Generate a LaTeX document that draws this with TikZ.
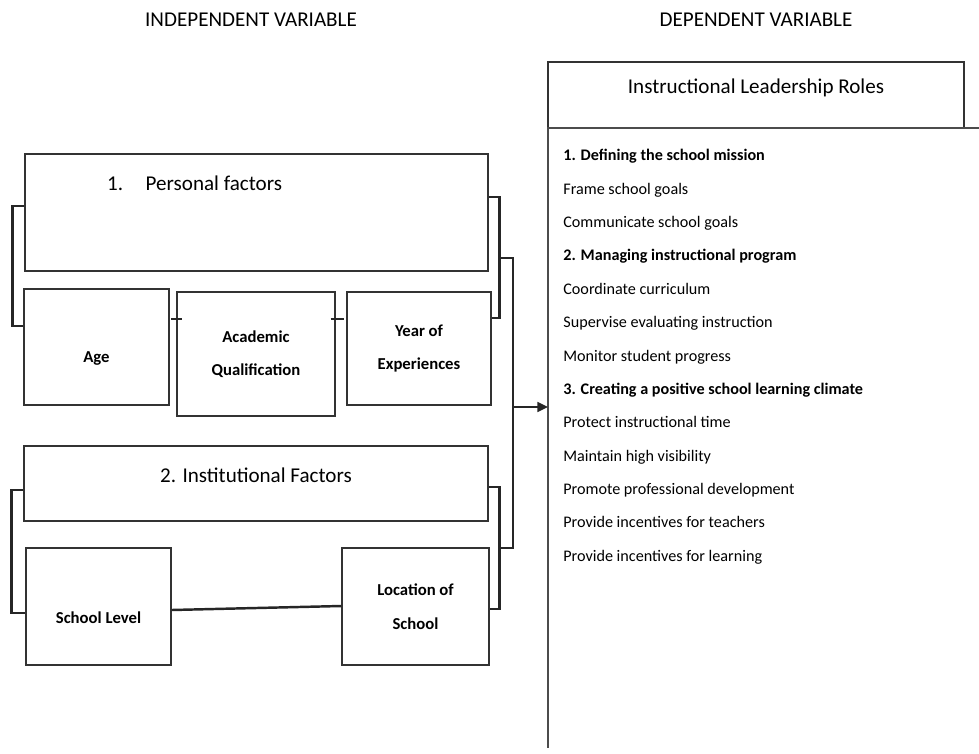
\documentclass[tikz,border=0pt]{standalone}
\usepackage{fontspec}
\setmainfont{Carlito}
\usetikzlibrary{arrows.meta}

\begin{document}
\begin{tikzpicture}[
    x = 0.02cm, y = -0.02cm,
    box/.style = {
      rectangle,
      draw = black!80, line width = 0.8pt,
      align = center,
      inner sep = 0,
      font = \fontsize{9.5}{19}\selectfont\bfseries,
    },
    title/.style = {
      font = \fontsize{12}{14}\selectfont,
    },
    heading/.style = {
      font = \fontsize{12}{14}\selectfont,
    },
    link/.style = {
      draw = black!85, line width = 1.4pt,
    },
    panel/.style = {
      draw = black!70, line width = 1pt,
    },
    roles/.style = {
      anchor = north west,
      align = left,
      inner sep = 0,
      font = \fontsize{9.2}{19}\selectfont,
    },
  ]
  \useasboundingbox (0,0) rectangle (979,753);

  \node[heading] (iv) at (251,20) {INDEPENDENT VARIABLE};
  \node[heading] (dv) at (756,20) {DEPENDENT VARIABLE};

  \node[box, minimum width = 9.26cm, minimum height = 2.34cm] (pf) at (256.5,212.5) {};
  \node[title, anchor = west] (pftitle) at (101,183) {1.\hspace{0.45cm}Personal factors};
  \node[box, minimum width = 2.9cm, minimum height = 2.32cm] (age) at (96.5,347) {\mbox{}\\Age};
  \node[box, minimum width = 3.16cm, minimum height = 2.48cm] (acad) at (256,354) {Academic\\Qualification};
  \node[box, minimum width = 2.88cm, minimum height = 2.26cm] (year) at (419,348.5) {Year of\\Experiences};

  \node[box, title, text depth = 10pt, minimum width = 9.28cm, minimum height = 1.5cm] (inst) at (256,483.5) {2. Institutional Factors};
  \node[box, minimum width = 2.9cm, minimum height = 2.34cm] (slevel) at (98.5,606.5) {\mbox{}\\School Level};
  \node[box, minimum width = 2.94cm, minimum height = 2.34cm] (loc) at (415.5,606.5) {Location of\\School};

  \node[box, title, text depth = 10pt, minimum width = 8.32cm, minimum height = 1.32cm] (hdr) at (756,95) {Instructional Leadership Roles};
  \coordinate (corner) at (548,128);
  \draw[panel] (979,128) -- (corner) -- (548,748);
  \node[roles] (list) at (563,149) {
    \textbf{1. Defining the school mission}\\
    Frame school goals\\
    Communicate school goals\\
    \textbf{2. Managing instructional program}\\
    Coordinate curriculum\\
    Supervise evaluating instruction\\
    Monitor student progress\\
    \textbf{3. Creating a positive school learning climate}\\
    Protect instructional time\\
    Maintain high visibility\\
    Promote professional development\\
    Provide incentives for teachers\\
    Provide incentives for learning};

  \draw[link] ([shift={(0,-6.5)}]pf.west) -- ++(-12,0) |- ([shift={(0,-21)}]age.west);
  \draw[link] ([shift={(0,-15.5)}]pf.east) -- ++(11,0) |- ([shift={(0,-30.5)}]year.east);
  \draw[link] ([shift={(-5,-35)}]acad.west) -- ++(11,0);
  \draw[link] ([shift={(-5,-35)}]acad.east) -- ++(13,0);

  \draw[link] ([shift={(0,6.5)}]inst.west) -- ++(-12,0) |- ([shift={(0,6.5)}]slevel.west);
  \draw[link] ([shift={(0,3.5)}]slevel.east) -- ([shift={(0,-0.5)}]loc.west);
  \draw[link] ([shift={(0,3.5)}]inst.east) -- ++(11,0) |- ([shift={(0,2.5)}]loc.east);

  \coordinate (jtop) at (499,258);
  \coordinate (jbot) at (499,548);
  \coordinate (mid) at (513,407);
  \draw[link] (jtop) -| (mid) |- (jbot);
  \draw[link, -{Triangle[length = 6pt, width = 5.5pt]}] (mid) -- (mid -| corner);
\end{tikzpicture}
\end{document}
